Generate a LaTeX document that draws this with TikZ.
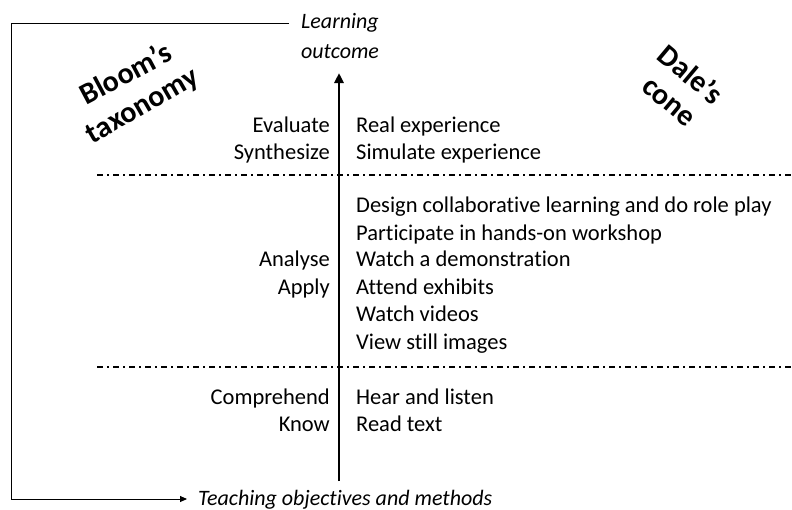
\documentclass[tikz,border=0pt]{standalone}
\usepackage{fontspec}
\setmainfont{Carlito}[Ligatures=CommonOff]
\usetikzlibrary{arrows.meta}
\begin{document}
\begin{tikzpicture}[x=1pt,y=-1pt,
  lbl/.style={font=\fontsize{22.5}{26}\selectfont, inner sep=0pt},
  lft/.style={lbl, anchor=base east},
  rgt/.style={lbl, anchor=base west},
  ital/.style={font=\fontsize{22}{26}\selectfont\itshape, inner sep=0pt},
  rot/.style={font=\fontsize{30}{32}\selectfont\bfseries, inner sep=0pt},
  sep/.style={line width=1.6pt, dash pattern=on 6pt off 4pt on 2pt off 4pt},
  frame/.style={line width=0.9pt},
  mainarrow/.style={line width=2.6pt, -{Triangle[length=10pt,width=9pt]}}
]
\useasboundingbox (0,0) rectangle (792,509);

% frame
\coordinate (tl) at (11,23);
\coordinate (tr) at (289,23);
\coordinate (bl) at (11,499);
\coordinate (br) at (187,499);
\draw[frame] (tr) -- (tl) -- (bl);
\draw[frame, -{Triangle[length=7pt,width=6pt]}] (bl) -- (br);

% axis labels
\node[ital] (lo1) at (340,23) {Learning};
\node[ital] (lo2) at (340,52) {outcome};
\node[ital, anchor=base west] (tom) at (198,505) {Teaching objectives and methods};

% rotated titles
\node[rot, rotate=28] (bl1) at (125,73) {Bloom’s};
\node[rot, rotate=30] (bl2) at (143,107) {taxonomy};
\node[rot, rotate=-40] (da1) at (691,74) {Dale’s};
\node[rot, rotate=-40] (da2) at (668,103) {cone};

% main arrow
\coordinate (abot) at (339,481);
\coordinate (atop) at (339,73);
\draw[mainarrow] (abot) -- (atop);

% separators
\coordinate (s1a) at (97,175);
\coordinate (s1b) at (792,175);
\coordinate (s2a) at (97,367);
\coordinate (s2b) at (792,367);
\draw[sep] (s1a) -- (s1b);
\draw[sep] (s2a) -- (s2b);

% left column
\node[lft] (ev) at (330,132) {Evaluate};
\node[lft] (sy) at (330,159) {Synthesize};
\node[lft] (an) at (330,266) {Analyse};
\node[lft] (ap) at (330,294) {Apply};
\node[lft] (co) at (330,404) {Comprehend};
\node[lft] (kn) at (330,431) {Know};

% right column
\node[rgt] (r1) at (356,132) {Real experience};
\node[rgt] (r2) at (356,159) {Simulate experience};
\node[rgt] (r3) at (356,212) {Design collaborative learning and do role play};
\node[rgt] (r4) at (356,240) {Participate in hands-on workshop};
\node[rgt] (r5) at (356,266) {Watch a demonstration};
\node[rgt] (r6) at (356,294) {Attend exhibits};
\node[rgt] (r7) at (356,321) {Watch videos};
\node[rgt] (r8) at (356,349) {View still images};
\node[rgt] (r9) at (356,404) {Hear and listen};
\node[rgt] (r10) at (356,431) {Read text};
\end{tikzpicture}
\end{document}
